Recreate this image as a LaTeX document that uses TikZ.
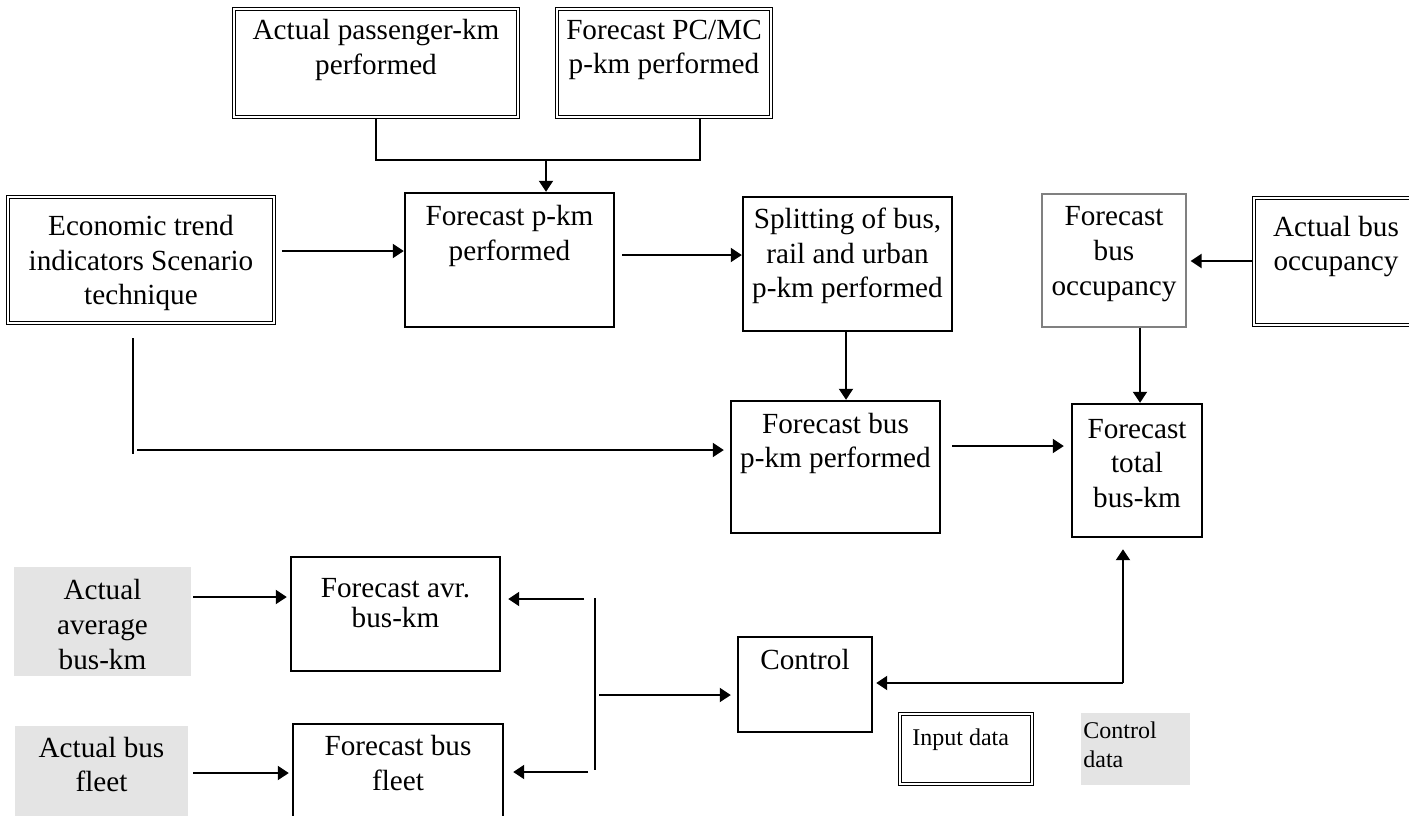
\documentclass[tikz,border=0pt]{standalone}
\usepackage{fontspec}
\setmainfont{Liberation Serif}
\usepackage{xcolor}
\usetikzlibrary{arrows.meta, positioning}

\definecolor{shade}{RGB}{228,228,228}

\begin{document}
\begin{tikzpicture}[x=0.5pt, y=-0.5pt,
		box/.style={draw, line width=1.2pt, inner sep=0pt},
		dbox/.style={box, double, line width=0.8pt, double distance=0.7pt},
		tbox/.style={box, draw=gray, line width=0.6pt},
		gbox/.style={fill=shade, inner sep=0pt},
		txt/.style={align=center, inner sep=0pt, font=\fontsize{14.6pt}{17.3pt}\selectfont},
		small/.style={align=left, inner sep=0pt, font=\fontsize{12pt}{14.5pt}\selectfont},
		line/.style={line width=1pt},
		arrow/.style={-{Triangle[length=5.5pt, width=7pt]}, line width=1pt}
		]
		\useasboundingbox (0,0) rectangle (1409,815);
		
		% Top inputs
		\node[dbox, minimum width=142pt, minimum height=54pt] (apkm) at (376,63) {};
		\node[txt] (apkmT) at (376,50) {Actual passenger-km\\performed};
		\node[dbox, minimum width=107pt, minimum height=54pt] (pcmc) at (664,63) {};
		\node[txt] (pcmcT) at (664,50) {Forecast PC/MC\\p-km performed};
		
		% Second row
		\node[dbox, minimum width=133pt, minimum height=63pt] (econ) at (141,260) {};
		\node[txt] (econT) at (141,263) {Economic trend\\indicators Scenario\\technique};
		\node[box, minimum width=104.5pt, minimum height=67pt] (fpkm) at (509.5,260) {};
		\node[txt] (fpkmT) at (509.5,236) {Forecast p-km\\performed};
		\node[box, minimum width=104.5pt, minimum height=67pt] (split) at (847.5,264) {};
		\node[txt] (splitT) at (847.5,256) {Splitting of bus,\\rail and urban\\p-km performed};
		\node[tbox, minimum width=72pt, minimum height=66.5pt] (fbo) at (1114,260.5) {};
		\node[txt] (fboT) at (1114,254) {Forecast\\bus\\occupancy};
		\node[dbox, minimum width=82pt, minimum height=63.5pt] (abo) at (1336,261.5) {};
		\node[txt] (aboT) at (1336,246.5) {Actual bus\\occupancy};
		
		% Third row
		\node[box, minimum width=104.5pt, minimum height=66pt] (fbus) at (835.5,467) {};
		\node[txt] (fbusT) at (835.5,443.5) {Forecast bus\\p-km performed};
		\node[box, minimum width=65pt, minimum height=66.5pt] (ftot) at (1137,470.5) {};
		\node[txt] (ftotT) at (1137,463.5) {Forecast\\total\\bus-km};
		
		% Bottom part
		\node[gbox, minimum width=88.5pt, minimum height=54.5pt] (aavg) at (102.5,621.5) {};
		\node[txt] (aavgT) at (102.5,624.5) {Actual\\average\\bus-km};
		\node[box, minimum width=104.5pt, minimum height=57pt] (favr) at (395.5,614) {};
		\node[txt, font=\fontsize{14.6pt}{15pt}\selectfont] (favrT) at (395.5,603.5) {Forecast avr.\\bus-km};
		\node[gbox, minimum width=86.5pt, minimum height=52pt] (afleet) at (101.5,778) {};
		\node[txt] (afleetT) at (101.5,764.5) {Actual bus\\fleet};
		\node[box, minimum width=105pt, minimum height=52pt] (ffleet) at (398,776) {};
		\node[txt] (ffleetT) at (398,763) {Forecast bus\\fleet};
		\node[box, minimum width=67pt, minimum height=47.5pt] (ctrl) at (805,684.5) {};
		\node[txt] (ctrlT) at (805,660) {Control};
		
		% Legend
		\node[dbox, minimum width=66pt, minimum height=35pt] (input) at (966,749) {};
		\node[small, anchor=west] (inputT) at (912,740) {Input data};
		\node[gbox, minimum width=54.5pt, minimum height=36pt] (cdata) at (1135.5,749) {};
		\node[small, anchor=west] (cdataT) at (1083,745) {Control\\data};
		
		% Connectors
		\coordinate (tjoin) at (546,160);
		\draw[line] (apkm.south) |- (tjoin) -| (pcmc.south -| 700,0);
		\draw[arrow] (tjoin) -- (fpkm.north -| tjoin);
		\draw[arrow] ([xshift=3.5pt]econ.east |- 0,251) -- (fpkm.west |- 0,251);
		\draw[arrow] ([xshift=3.5pt]fpkm.east |- 0,255) -- (split.west |- 0,255);
		\draw[arrow] (split.south -| 846,0) -- (fbus.north -| 846,0);
		\draw[arrow] (abo.west |- 0,261) -- ([xshift=2pt]fbo.east |- 0,261);
		\draw[arrow] (fbo.south -| 1140,0) -- (ftot.north -| 1140,0);
		
		\coordinate (etop) at (133,338);
		\coordinate (ecorner) at (133,454);
		\coordinate (ejoin) at (137,450);
		\draw[line] (etop) -- (ecorner);
		\draw[arrow] (ejoin) -- ([xshift=-3pt]fbus.west |- ejoin);
		\draw[arrow] ([xshift=5.5pt]fbus.east |- 0,446) -- ([xshift=-3.5pt]ftot.west |- 0,446);
		
		\draw[arrow] ([xshift=1pt]aavg.east |- 0,597) -- ([xshift=-1.5pt]favr.west |- 0,597);
		\draw[arrow] ([xshift=2.5pt]afleet.east |- 0,773) -- ([xshift=-1.5pt]ffleet.west |- 0,773);
		
		\coordinate (btop) at (595,598);
		\coordinate (bbot) at (595,770);
		\coordinate (bup) at (584,599);
		\coordinate (blow) at (588,772);
		\coordinate (bmid) at (599,695);
		\draw[line] (btop) -- (bbot);
		\draw[arrow] (bup) -- ([xshift=3.5pt]favr.east |- bup);
		\draw[arrow] (blow) -- ([xshift=4.5pt]ffleet.east |- blow);
		\draw[arrow] (bmid) -- ([xshift=-3pt]ctrl.west |- bmid);
		
		\coordinate (ccorner) at (1123,683);
		\draw[arrow] (ccorner) -- ([xshift=1.5pt]ctrl.east |- ccorner);
		\draw[arrow] (ccorner) -- ([yshift=-5.5pt]ftot.south -| ccorner);
		
	\end{tikzpicture}
\end{document}
